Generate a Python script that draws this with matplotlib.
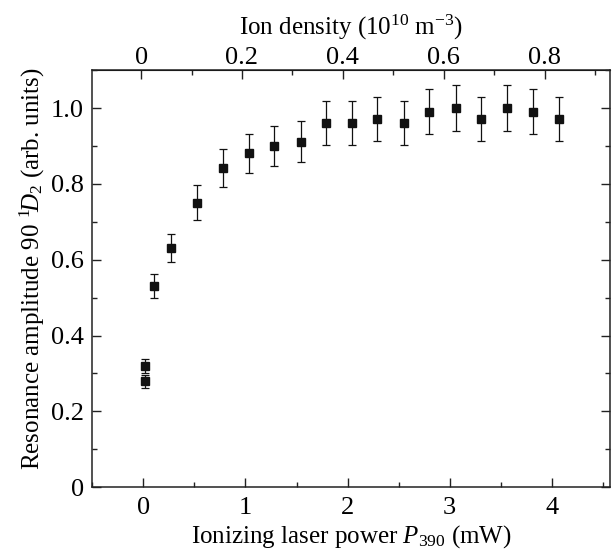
import matplotlib
matplotlib.use("Agg")
import matplotlib.pyplot as plt
from matplotlib.ticker import MultipleLocator, FuncFormatter

plt.rcParams['font.family'] = ['Liberation Serif', 'DejaVu Serif']
plt.rcParams['mathtext.fontset'] = 'custom'
plt.rcParams['mathtext.rm'] = 'Liberation Serif'
plt.rcParams['mathtext.it'] = 'Liberation Serif:italic'
plt.rcParams['mathtext.bf'] = 'Liberation Serif:bold'

power_mw = [0.02, 0.02, 0.10, 0.27, 0.52, 0.78, 1.03, 1.28, 1.54, 1.79,
            2.04, 2.29, 2.55, 2.80, 3.06, 3.31, 3.56, 3.82, 4.07]
amplitude = [0.319, 0.280, 0.530, 0.631, 0.751, 0.842, 0.881, 0.901, 0.911, 0.960,
             0.960, 0.971, 0.960, 0.991, 1.000, 0.971, 1.000, 0.991, 0.971]
amp_err = [0.019, 0.017, 0.032, 0.038, 0.045, 0.050, 0.052, 0.053, 0.054, 0.058,
           0.058, 0.059, 0.058, 0.059, 0.060, 0.059, 0.060, 0.059, 0.059]

x_ticks = [0, 1, 2, 3, 4]
y_ticks = [0, 0.2, 0.4, 0.6, 0.8, 1.0]
density_ticks = [0, 0.2, 0.4, 0.6, 0.8]

FS_LAB = 18
FS_TICK = 19

fig = plt.figure(figsize=(6.16, 5.53), dpi=100)
ax = fig.add_axes([0.150, 0.119, 0.840, 0.754])

ax.errorbar(power_mw, amplitude, yerr=amp_err, fmt='s', color='#111111',
            ms=5.8, capsize=3.2, elinewidth=0.9, capthick=0.9)

ax.set_xlim(-0.5, 4.57)
ax.set_ylim(0, 1.1)
ax.set_xticks(x_ticks)
ax.xaxis.set_minor_locator(MultipleLocator(0.5))
ax.set_yticks(y_ticks)
ax.yaxis.set_minor_locator(MultipleLocator(0.1))

def yfmt(v, pos):
    return '0' if abs(v) < 1e-9 else f'{v:.1f}'
ax.yaxis.set_major_formatter(FuncFormatter(yfmt))

ax.tick_params(which='both', direction='in', top=False, right=True,
               labelsize=FS_TICK, width=1.0, color='#222222')
ax.tick_params(which='major', length=6.5, pad=6)
ax.tick_params(which='minor', length=3.5)
ax.tick_params(axis='x', which='major', pad=7)
for s in ax.spines.values():
    s.set_linewidth(1.1)
    s.set_color('#222222')

ax.set_xlabel('Ionizing laser power $\\it{P}_{390}$ (mW)', fontsize=FS_LAB, labelpad=3)
ax.set_ylabel('Resonance amplitude 90 ${}^{1}\\!\\it{D}_{2}$ (arb. units)', fontsize=FS_LAB)
ax.yaxis.set_label_coords(-0.088, 0.525)

a, b = 0.2024, 0.0046
sec = ax.secondary_xaxis('top', functions=(lambda p: a * p + b, lambda d: (d - b) / a))
sec.set_xticks(density_ticks)
sec.xaxis.set_minor_locator(MultipleLocator(0.1))
def dfmt(v, pos):
    return '0' if abs(v) < 1e-9 else f'{v:.1f}'
sec.xaxis.set_major_formatter(FuncFormatter(dfmt))
sec.tick_params(which='both', direction='in', labelsize=FS_TICK, width=1.0, color='#222222')
sec.tick_params(which='major', length=6.5, pad=1)
sec.tick_params(which='minor', length=3.5)
sec.set_xlabel('Ion density (10$^{10}$ m$^{-3}$)', fontsize=FS_LAB, labelpad=9)

fig.savefig('out.png', dpi=100)
